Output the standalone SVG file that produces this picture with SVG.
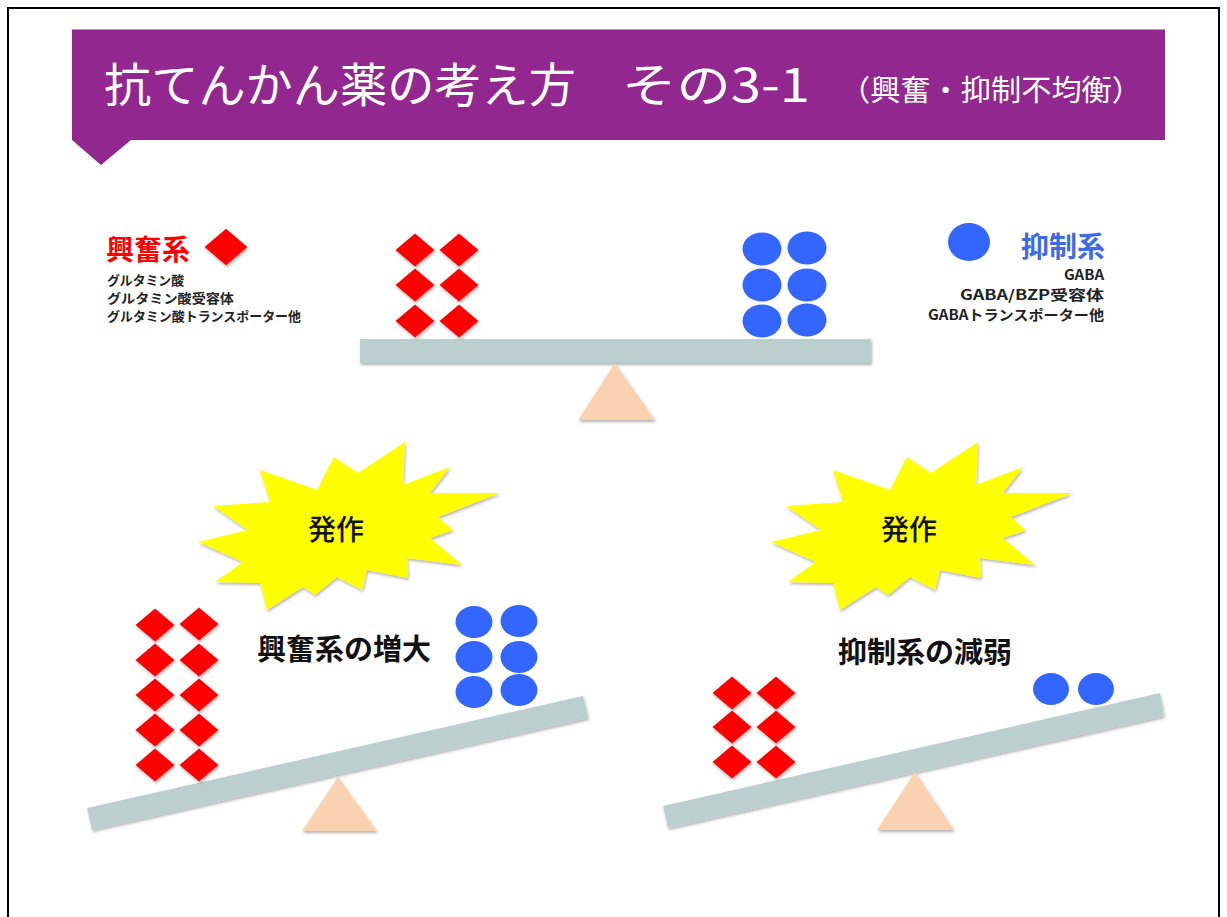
<svg xmlns="http://www.w3.org/2000/svg" xmlns:xlink="http://www.w3.org/1999/xlink" width="1227" height="917" viewBox="0 0 1227 917">
<style>
.jp{font-family:"Noto Sans CJK JP","Noto Sans",sans-serif}
.ttl{fill:#ffffff;font-weight:400}
.red{fill:#ff0000}
.blue{fill:#3366ff}
.bar{fill:#bccfcf}
.ful{fill:#f9d3b1}
.star{fill:#ffff00}
.sub{font-size:13px;font-weight:700;fill:#222222}
.subr{font-size:14px;font-weight:700;fill:#222222}
.lbl{font-size:29px;font-weight:700;fill:#111111}
.hk{font-size:28px;font-weight:500;fill:#111111}
</style>
<defs>
<filter id="sh" x="-20%" y="-20%" width="140%" height="150%">
<feDropShadow dx="1" dy="2" stdDeviation="1.5" flood-color="#000" flood-opacity="0.3"/>
</filter>
<path id="dm" d="M0,-16.5 L19.5,0 L0,16.5 L-19.5,0Z"/>
<polygon id="burst" points="198,542 248,530 213,506 270,502 260,470 317,490 334,457 358,473 405,442 403,485 450,467 430,493 500,493 438,517 453,530 430,538 462,565 407,558 408,578 367,570 362,590 337,577 315,595 303,587 267,610 260,583 215,582 243,562"/>
</defs>
<rect x="0" y="0" width="1227" height="917" fill="#ffffff"/>
<rect x="8" y="8" width="1211" height="930" fill="none" stroke="#000" stroke-width="2"/>

<g id="title">
<polygon points="72,29 1165,29 1165,140 131,140 101,165 72,140" fill="#92278f"/>
<line x1="72" y1="29.5" x2="1165" y2="29.5" stroke="#c98ac6" stroke-width="1"/>
<text class="jp ttl" x="104" y="102" font-size="47" textLength="472" lengthAdjust="spacingAndGlyphs">抗てんかん薬の考え方</text>
<text class="jp ttl" x="622" y="102" font-size="47" textLength="188" lengthAdjust="spacingAndGlyphs">その3-1</text>
<text class="jp ttl" x="840" y="101" font-size="29" textLength="302" lengthAdjust="spacingAndGlyphs">（興奮・抑制不均衡）</text>
</g>

<g id="legend-excite">
<text class="jp" x="106" y="260" font-size="28" font-weight="700" fill="#ff0000">興奮系</text>
<use href="#dm" x="226" y="247" class="red" filter="url(#sh)" transform="translate(226 247) scale(1.1) translate(-226 -247)"/>
<text class="jp sub" x="107" y="285" textLength="77" lengthAdjust="spacingAndGlyphs">グルタミン酸</text>
<text class="jp sub" x="107" y="303" textLength="127" lengthAdjust="spacingAndGlyphs">グルタミン酸受容体</text>
<text class="jp sub" x="107" y="321" textLength="194" lengthAdjust="spacingAndGlyphs">グルタミン酸トランスポーター他</text>
</g>

<g id="legend-inhibit">
<ellipse cx="969" cy="242" rx="21" ry="19" class="blue"/>
<text class="jp" x="1105" y="257" font-size="28" font-weight="700" fill="#3f6ae6" text-anchor="end">抑制系</text>
<text class="jp subr" x="1064" y="280" textLength="40" lengthAdjust="spacingAndGlyphs">GABA</text>
<text class="jp subr" x="960" y="300" textLength="144" lengthAdjust="spacingAndGlyphs">GABA/BZP受容体</text>
<text class="jp subr" x="928" y="320" textLength="176" lengthAdjust="spacingAndGlyphs">GABAトランスポーター他</text>
</g>

<g id="seesaw-balanced">
<rect x="360" y="339" width="511" height="24" class="bar" filter="url(#sh)"/>
<polygon points="615,363 578,420 655,420" class="ful" filter="url(#sh)"/>
<g class="red" filter="url(#sh)">
<use href="#dm" x="415" y="250"/><use href="#dm" x="459" y="250"/>
<use href="#dm" x="415" y="285"/><use href="#dm" x="459" y="285"/>
<use href="#dm" x="415" y="321"/><use href="#dm" x="459" y="321"/>
</g>
<g class="blue">
<ellipse cx="762" cy="249" rx="19.5" ry="16.5"/><ellipse cx="807" cy="248" rx="19.5" ry="16.5"/>
<ellipse cx="762" cy="285" rx="19.5" ry="16.5"/><ellipse cx="807" cy="285" rx="19.5" ry="16.5"/>
<ellipse cx="762" cy="321" rx="19.5" ry="16.5"/><ellipse cx="807" cy="320" rx="19.5" ry="16.5"/>
</g>
</g>

<g id="seizure-left">
<use href="#burst" class="star" filter="url(#sh)"/>
<text class="jp hk" x="336" y="540" text-anchor="middle">発作</text>
</g>

<g id="seizure-right">
<use href="#burst" class="star" filter="url(#sh)" transform="translate(573 0)"/>
<text class="jp hk" x="909" y="540" text-anchor="middle">発作</text>
</g>

<g id="seesaw-excite-up">
<polygon points="87,808 583,696 588,718 92,830" class="bar" filter="url(#sh)"/>
<polygon points="338,777 302,831 377,831" class="ful" filter="url(#sh)"/>
<g class="red" filter="url(#sh)">
<use href="#dm" x="155" y="625"/><use href="#dm" x="199" y="624"/>
<use href="#dm" x="155" y="660"/><use href="#dm" x="199" y="660"/>
<use href="#dm" x="155" y="695"/><use href="#dm" x="199" y="695"/>
<use href="#dm" x="155" y="730"/><use href="#dm" x="199" y="730"/>
<use href="#dm" x="155" y="765"/><use href="#dm" x="199" y="765"/>
</g>
<g class="blue">
<ellipse cx="474" cy="622" rx="18.5" ry="16"/><ellipse cx="519" cy="621" rx="18.5" ry="16"/>
<ellipse cx="474" cy="657" rx="18.5" ry="16"/><ellipse cx="519" cy="657" rx="18.5" ry="16"/>
<ellipse cx="474" cy="692" rx="18.5" ry="16"/><ellipse cx="519" cy="690" rx="18.5" ry="16"/>
</g>
<text class="jp lbl" x="257" y="660">興奮系の増大</text>
</g>

<g id="seesaw-inhibit-down">
<polygon points="663,806 1160,693 1164,716 668,828" class="bar" filter="url(#sh)"/>
<polygon points="915,772 877,830 954,830" class="ful" filter="url(#sh)"/>
<g class="red" filter="url(#sh)">
<use href="#dm" x="732" y="693"/><use href="#dm" x="776" y="693"/>
<use href="#dm" x="732" y="727"/><use href="#dm" x="776" y="727"/>
<use href="#dm" x="732" y="762"/><use href="#dm" x="776" y="762"/>
</g>
<g class="blue">
<ellipse cx="1051" cy="689" rx="18" ry="16"/><ellipse cx="1096" cy="689" rx="18" ry="16"/>
</g>
<text class="jp lbl" x="838" y="663">抑制系の減弱</text>
</g>
</svg>
